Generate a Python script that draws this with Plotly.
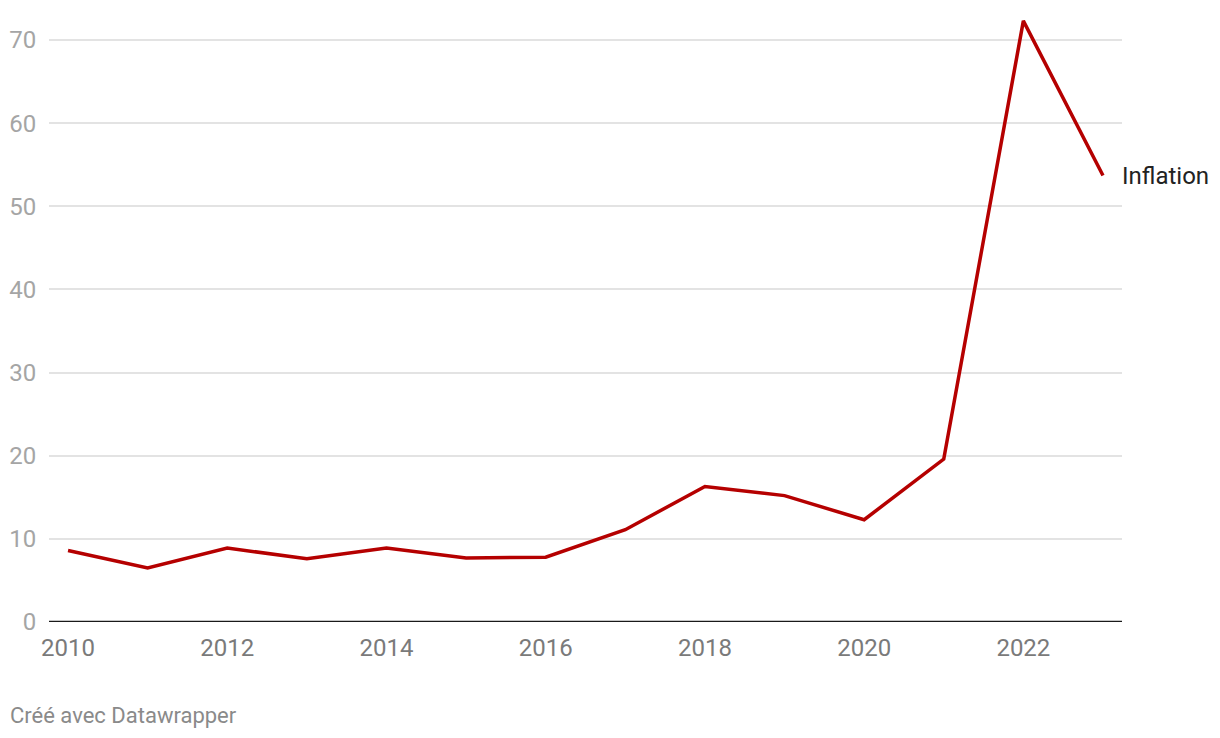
import plotly.graph_objects as go

years = [2010, 2011, 2012, 2013, 2014, 2015, 2016, 2017, 2018, 2019, 2020, 2021, 2022, 2023]
inflation = [8.6, 6.5, 8.9, 7.6, 8.9, 7.7, 7.8, 11.1, 16.3, 15.2, 12.3, 19.6, 72.3, 53.7]
x_ticks = [2010, 2012, 2014, 2016, 2018, 2020, 2022]
y_ticks = [0, 10, 20, 30, 40, 50, 60, 70]
series_name = "Inflation"
footer = "Créé avec Datawrapper"

fig = go.Figure()
fig.add_trace(go.Scatter(
    x=years, y=inflation, mode="lines",
    line=dict(color="#b50000", width=3.5),
    cliponaxis=False, showlegend=False, hoverinfo="x+y",
))

fig.add_annotation(
    x=years[-1], y=inflation[-1], text=series_name, showarrow=False,
    xanchor="left", yanchor="middle", xshift=17, yshift=0,
    font=dict(family="Roboto", size=24, color="#222222"),
)
fig.add_annotation(
    x=0, y=0, xref="paper", yref="paper", text=footer, showarrow=False,
    xanchor="left", yanchor="middle", xshift=-41, yshift=-93,
    font=dict(family="Roboto", size=22, color="#8a8a8a"),
)

fig.update_layout(
    width=1220, height=738,
    margin=dict(l=49, r=98, t=10, b=116),
    paper_bgcolor="white", plot_bgcolor="white",
    font=dict(family="Roboto"),
    xaxis=dict(
        range=[2010 - 0.239, 2023 + 0.239],
        tickvals=x_ticks, ticktext=[str(v) for v in x_ticks],
        showgrid=False, zeroline=False, showline=False,
        ticks="outside", ticklen=4, tickcolor="rgba(0,0,0,0)",
        tickfont=dict(family="Roboto", size=24, color="#7a7a7a"),
    ),
    yaxis=dict(
        range=[0, 73.61],
        tickvals=y_ticks, ticktext=[str(v) for v in y_ticks],
        showgrid=True, gridcolor="#e3e3e3", gridwidth=1.5,
        zeroline=False, showline=False,
        ticks="outside", ticklen=7, tickcolor="rgba(0,0,0,0)",
        tickfont=dict(family="Roboto", size=24, color="#a5a5a5"),
    ),
    shapes=[dict(type="line", xref="paper", yref="y", x0=0, x1=1, y0=0, y1=0,
                 line=dict(color="#1a1a1a", width=2.5), layer="above")],
)

fig.write_html("out.html")
